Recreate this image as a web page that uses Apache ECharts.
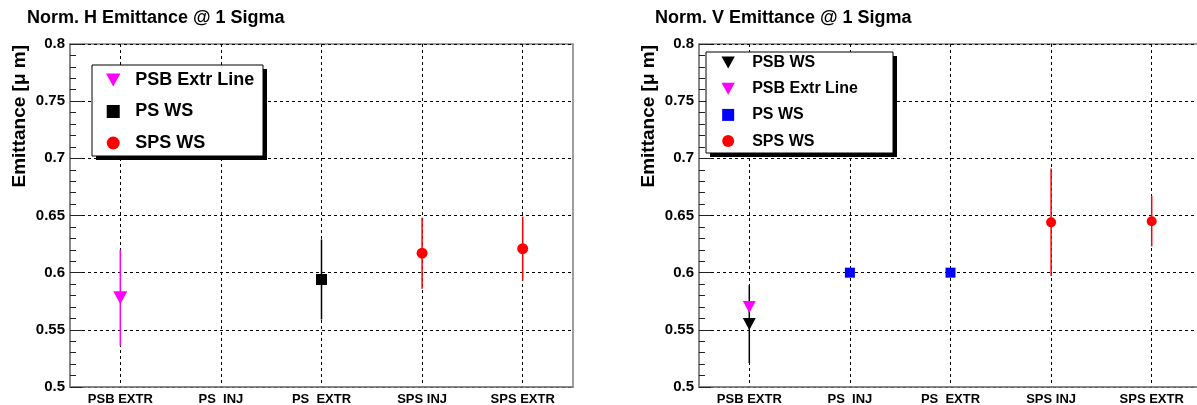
<!DOCTYPE html>
<html>
<head>
<meta charset="utf-8">
<script src="https://cdn.jsdelivr.net/npm/echarts@6/dist/echarts.min.js"></script>
<style>
  html, body { margin: 0; padding: 0; background: #fff; }
  #chart { width: 1197px; height: 405px; }
</style>
</head>
<body>
<div id="chart"></div>
<script>
// categories along the beam chain
const categories = ['PSB EXTR', 'PS  INJ', 'PS  EXTR', 'SPS INJ', 'SPS EXTR'];

// [category, emittance, error]  -- horizontal plane
const hPsbExtrLine = [['PSB EXTR', 0.578, 0.042]];
const hPsWs = [['PS  EXTR', 0.594, 0.035]];
const hSpsWs = [['SPS INJ', 0.617, 0.031], ['SPS EXTR', 0.621, 0.028]];

// vertical plane
const vPsbWs = [['PSB EXTR', 0.555, 0.034]];
const vPsbExtrLine = [['PSB EXTR', 0.570, 0.0]];
const vPsWs = [['PS  INJ', 0.600, 0.0], ['PS  EXTR', 0.600, 0.0]];
const vSpsWs = [['SPS INJ', 0.644, 0.047], ['SPS EXTR', 0.645, 0.022]];

const FONT = '"Liberation Sans", Arial, Helvetica, sans-serif';
const TRI_DOWN = 'path://M0,0L20,0L10,18Z';
const SQUARE = 'path://M0,0L10,0L10,10L0,10Z';

const chart = echarts.init(document.getElementById('chart'));

function errorBar(color) {
  return function (params, api) {
    const x = api.value(0);
    const v = api.value(1);
    const e = api.value(2);
    if (!e) return null;
    const hi = api.coord([x, v + e]);
    const lo = api.coord([x, v - e]);
    return {
      type: 'line',
      shape: { x1: hi[0], y1: hi[1], x2: lo[0], y2: lo[1] },
      style: { stroke: color, lineWidth: 1.5 }
    };
  };
}

function xAxis(gridIndex) {
  return {
    type: 'category',
    gridIndex: gridIndex,
    data: categories,
    boundaryGap: true,
    axisLine: { lineStyle: { color: '#808080', width: 1.5 } },
    axisTick: { inside: true, alignWithLabel: true, length: 9, lineStyle: { color: '#222' } },
    axisLabel: { color: '#000', fontFamily: FONT, fontWeight: 'bold', fontSize: 13, margin: 6, interval: 0 },
    splitLine: { show: true, alignWithLabel: true, interval: 0, lineStyle: { color: '#000', type: [3, 3], width: 1 } }
  };
}

function yAxis(gridIndex) {
  return {
    type: 'value',
    gridIndex: gridIndex,
    min: 0.5,
    max: 0.8,
    interval: 0.05,
    axisLine: { show: true, lineStyle: { color: '#808080', width: 1.5 } },
    axisTick: { show: true, inside: true, length: 12, lineStyle: { color: '#222' } },
    minorTick: { show: true, splitNumber: 5, length: 6, lineStyle: { color: '#222' } },
    axisLabel: { color: '#000', fontFamily: FONT, fontWeight: 'bold', fontSize: 15, margin: 5 },
    splitLine: { show: true, lineStyle: { color: '#000', type: [3, 3], width: 1 } }
  };
}

function scatter(name, data, idx, symbol, size, color) {
  return {
    name: name,
    type: 'scatter',
    xAxisIndex: idx,
    yAxisIndex: idx,
    data: data,
    symbol: symbol,
    symbolSize: size,
    itemStyle: { color: color, opacity: 1 },
    z: 5
  };
}

function bars(name, data, idx, color) {
  return {
    name: name,
    type: 'custom',
    xAxisIndex: idx,
    yAxisIndex: idx,
    data: data,
    encode: { x: 0, y: 1 },
    renderItem: errorBar(color),
    z: 3
  };
}

const legendText = (size) => ({ color: '#000', fontFamily: FONT, fontWeight: 'bold', fontSize: size, lineHeight: size });

// legend frame with ROOT style drop shadow
function legendBox(x, y, w, h) {
  return [
    { type: 'rect', z: 20, shape: { x: x + 4, y: y + 4, width: w, height: h }, style: { fill: '#000' } },
    { type: 'rect', z: 21, shape: { x: x, y: y, width: w, height: h }, style: { fill: '#fff', stroke: '#000', lineWidth: 1 } }
  ];
}

const option = {
  animation: false,
  backgroundColor: '#fff',
  title: [
    { text: 'Norm. H Emittance @ 1 Sigma', left: 27, top: 9, padding: 0,
      textStyle: { fontFamily: FONT, fontWeight: 'bold', fontSize: 18, color: '#000' } },
    { text: 'Norm. V Emittance @ 1 Sigma', left: 655, top: 9, padding: 0,
      textStyle: { fontFamily: FONT, fontWeight: 'bold', fontSize: 18, color: '#000' } }
  ],
  grid: [
    { left: 70, top: 44, width: 503, height: 343, show: true, borderColor: '#808080', borderWidth: 1.5,
      backgroundColor: 'transparent', outerBoundsMode: 'none' },
    { left: 699, top: 44, width: 503, height: 343, show: true, borderColor: '#808080', borderWidth: 1.5,
      backgroundColor: 'transparent', outerBoundsMode: 'none' }
  ],
  xAxis: [xAxis(0), xAxis(1)],
  yAxis: [yAxis(0), yAxis(1)],
  legend: [
    {
      data: ['PSB Extr Line', 'PS WS', 'SPS WS'],
      left: 92, top: 65, orient: 'vertical', z: 30,
      itemWidth: 34, itemHeight: 13, itemGap: 13.5,
      padding: [6, 0, 4, 14],
      selectedMode: false,
      symbolKeepAspect: true,
      textStyle: legendText(18)
    },
    {
      data: ['V PSB WS', 'V PSB Extr Line', 'V PS WS', 'V SPS WS'],
      formatter: (name) => name.replace(/^V /, ''),
      left: 706, top: 52, orient: 'vertical', z: 30,
      itemWidth: 38, itemHeight: 12, itemGap: 10.2,
      padding: [2.5, 0, 6, 15.5],
      selectedMode: false,
      symbolKeepAspect: true,
      textStyle: legendText(16)
    }
  ],
  graphic: [
    ...legendBox(92, 65, 171, 91),
    ...legendBox(706, 52, 187, 101),
    { type: 'text', x: 20, y: 45, rotation: Math.PI / 2,
      style: { text: 'Emittance [\u03bc m]', fontFamily: FONT, fontWeight: 'bold', fontSize: 19,
        fill: '#000', align: 'right', verticalAlign: 'middle' } },
    { type: 'text', x: 649, y: 45, rotation: Math.PI / 2,
      style: { text: 'Emittance [\u03bc m]', fontFamily: FONT, fontWeight: 'bold', fontSize: 19,
        fill: '#000', align: 'right', verticalAlign: 'middle' } }
  ],
  series: [
    bars('hPsbExtrLineErr', hPsbExtrLine, 0, '#ff00ff'),
    bars('hPsWsErr', hPsWs, 0, '#000'),
    bars('hSpsWsErr', hSpsWs, 0, '#ff0000'),
    scatter('PSB Extr Line', hPsbExtrLine, 0, TRI_DOWN, [14, 13], '#ff00ff'),
    scatter('PS WS', hPsWs, 0, SQUARE, 11, '#000'),
    scatter('SPS WS', hSpsWs, 0, 'circle', 11, '#ff0000'),

    bars('vPsbWsErr', vPsbWs, 1, '#000'),
    bars('vPsbExtrLineErr', vPsbExtrLine, 1, '#ff00ff'),
    bars('vPsWsErr', vPsWs, 1, '#0000ff'),
    bars('vSpsWsErr', vSpsWs, 1, '#ff0000'),
    scatter('V PSB WS', vPsbWs, 1, TRI_DOWN, [13, 12], '#000'),
    scatter('V PSB Extr Line', vPsbExtrLine, 1, TRI_DOWN, [13, 12], '#ff00ff'),
    scatter('V PS WS', vPsWs, 1, SQUARE, 10, '#0000ff'),
    scatter('V SPS WS', vSpsWs, 1, 'circle', 10, '#ff0000')
  ]
};

chart.setOption(option);
</script>
</body>
</html>
